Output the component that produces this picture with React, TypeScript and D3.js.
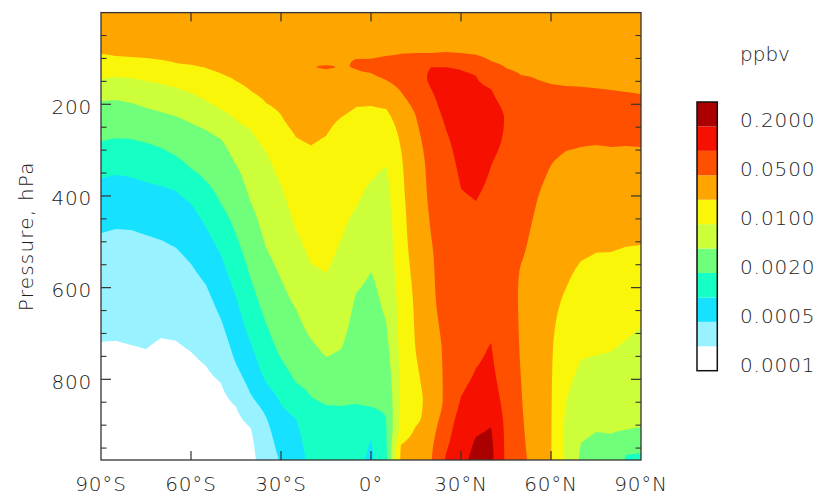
import React from "react";
import * as d3 from "d3";

// Latitude of each profile column (degrees, negative = south)
const latitudes = [
  -90, -85, -80, -75, -70, -65, -60, -55, -50, -45, -40, -35, -30, -25, -20, -15, -10, -5,
  0, 5, 10, 15, 20, 25, 30, 35, 40, 45, 50, 55, 60, 65, 70, 75, 80, 85, 90,
];

// Per-latitude profiles: [pressure hPa, colour-level index].
// Level index k marks the boundary value ppbvLevels[k].
const profiles: [number, number][][] = [
  [[0, 7.4], [90, 7], [145, 6], [193, 5], [280, 4], [361, 3], [481, 2], [718, 1], [976, 0.4]],
  [[0, 7.4], [95, 7], [140, 6], [191, 5], [274, 4], [354, 3], [472, 2], [716, 1], [976, 0.4]],
  [[0, 7.4], [97, 7], [143, 6], [197, 5], [276, 4], [359, 3], [474, 2], [725, 1], [976, 0.4]],
  [[0, 7.4], [99, 7], [149, 6], [208, 5], [284, 4], [370, 3], [485, 2], [734, 1], [976, 0.4]],
  [[0, 7.4], [103, 7], [156, 6], [217, 5], [295, 4], [378, 3], [496, 2], [710, 1], [976, 0.4]],
  [[0, 7.4], [110, 7], [164, 6], [226, 5], [313, 4], [389, 3], [513, 2], [716, 1], [976, 0.4]],
  [[0, 7.45], [114, 7], [175, 6], [241, 5], [340, 4], [417, 3], [548, 2], [740, 1], [976, 0.45]],
  [[0, 7.45], [121, 7], [192, 6], [256, 5], [368, 4], [468, 3], [594, 2], [771, 1], [976, 0.5]],
  [[0, 7.5], [133, 7], [211, 6], [276, 5], [417, 4], [530, 3], [669, 2], [808, 1], [976, 0.55]],
  [[0, 7.5], [149, 7], [234, 6], [332, 5], [484, 4], [620, 3], [766, 2], [860, 1], [976, 0.6]],
  [[0, 7.55], [171, 7], [257, 6], [415, 5], [583, 4], [722, 3], [833, 2], [908, 1], [976, 0.8]],
  [[0, 7.6], [197, 7], [304, 6], [513, 5], [678, 4], [807, 3], [882, 2], [976, 1.4]],
  [[0, 7.6], [223, 7], [376, 6], [581, 5], [755, 4], [855, 3], [976, 2.1]],
  [[0, 7.6], [119, 7.8], [272, 7], [475, 6], [647, 5], [807, 4], [887, 3], [976, 2.6]],
  [[0, 7.6], [119, 7.96], [180, 7.6], [290, 7], [548, 6], [712, 5], [838, 4], [976, 3.2]],
  [[0, 7.6], [110, 7.9], [119, 8.08], [128, 7.9], [269, 7], [568, 6], [752, 5], [856, 4], [976, 3.4]],
  [[0, 7.6], [119, 7.96], [160, 7.8], [229, 7], [496, 6], [734, 5], [858, 4], [976, 3.4]],
  [[0, 7.6], [60, 7.8], [116, 8.03], [135, 7.9], [206, 7], [426, 6], [612, 5], [854, 4], [976, 3.2]],
  [[0, 7.6], [60, 7.8], [101, 8], [116, 8.25], [132, 8], [204, 7], [367, 6], [566, 5], [860, 4], [932, 3], [976, 2.85]],
  [[0, 7.6], [60, 7.8], [95, 8], [120, 8.4], [147, 8], [210, 7], [335, 6], [671, 5], [884, 4], [976, 3.8]],
  [[0, 7.6], [60, 7.85], [90, 8], [130, 8.35], [173, 8], [230, 7.4], [300, 7], [409, 6.8], [518, 6.64], [627, 6.35], [736, 6.26], [845, 6.15], [910, 6.33], [947, 7.05], [976, 7.17]],
  [[0, 7.6], [60, 7.85], [88, 8], [136, 8.6], [228, 8], [300, 7.71], [409, 7.52], [518, 7.38], [627, 7.17], [736, 7.02], [801, 6.83], [852, 6.69], [882, 6.73], [910, 7.11], [947, 7.44], [976, 7.48]],
  [[0, 7.6], [60, 7.85], [88, 8], [119, 9], [143, 9.15], [166, 9], [300, 8.31], [409, 8.15], [485, 8], [518, 7.94], [627, 7.83], [736, 7.63], [845, 7.37], [910, 7.67], [947, 7.86], [976, 7.94]],
  [[0, 7.6], [60, 7.85], [86, 8], [119, 9], [169, 9.35], [256, 9], [300, 8.83], [409, 8.49], [518, 8.4], [627, 8.35], [736, 8.15], [845, 8.18], [910, 8.6], [947, 8.9], [976, 9.08]],
  [[0, 7.6], [60, 7.85], [88, 8], [125, 9], [191, 9.36], [300, 9.22], [383, 9], [518, 8.5], [627, 8.6], [736, 8.52], [838, 9], [910, 9.54], [947, 9.61], [976, 9.73]],
  [[0, 7.55], [92, 8], [138, 9], [300, 9.45], [411, 9], [518, 8.6], [627, 8.8], [736, 8.9], [775, 9], [845, 9.45], [925, 10], [976, 10.3]],
  [[0, 7.5], [106, 8], [167, 9], [250, 9.35], [335, 9], [518, 8.6], [627, 8.85], [720, 9], [845, 9.45], [905, 10], [976, 10.25]],
  [[0, 7.5], [121, 8], [230, 8.95], [409, 8.45], [518, 8.3], [627, 8.4], [736, 8.52], [845, 8.71], [910, 8.81], [976, 8.84]],
  [[0, 7.5], [136, 8], [191, 8.3], [300, 8.4], [409, 8.3], [518, 8.1], [560, 7.97], [627, 7.9], [764, 7.96], [800, 8], [873, 8.07], [976, 8.23]],
  [[0, 7.5], [145, 8], [300, 8.2], [420, 8], [518, 7.77], [627, 7.56], [764, 7.52], [873, 7.55], [976, 7.65]],
  [[0, 7.5], [156, 8], [245, 8.2], [333, 8], [518, 7.38], [627, 7.2], [736, 7.08], [845, 7.05], [976, 7.03]],
  [[0, 7.5], [160, 8], [230, 8.2], [302, 8], [409, 7.5], [518, 7.25], [601, 7], [736, 6.46], [852, 6], [910, 5.82], [976, 5.8]],
  [[0, 7.5], [162, 8], [225, 8.2], [293, 8], [420, 7.5], [542, 7], [650, 6.5], [758, 6], [850, 5.5], [939, 5], [976, 4.85]],
  [[0, 7.5], [165, 8], [225, 8.2], [289, 8], [410, 7.5], [524, 7], [640, 6.5], [747, 6], [830, 5.5], [915, 5], [976, 4.7]],
  [[0, 7.5], [169, 8], [228, 8.2], [293, 8], [410, 7.5], [522, 7], [630, 6.5], [740, 6], [830, 5.5], [919, 5], [976, 4.7]],
  [[0, 7.5], [173, 8], [230, 8.2], [291, 8], [400, 7.5], [511, 7], [610, 6.5], [714, 6], [810, 5.5], [910, 5], [965, 4], [976, 3.9]],
  [[0, 7.5], [178, 8], [235, 8.2], [293, 8], [400, 7.5], [507, 7], [600, 6.5], [686, 6], [800, 5.5], [904, 5], [961, 4], [976, 3.85]],
];

// Contour level boundaries (ppbv) and fill colours between them
const ppbvLevels = [0.0001, 0.0002, 0.0005, 0.001, 0.002, 0.005, 0.01, 0.02, 0.05, 0.1, 0.2, 0.5];
const levelColors = [
  "#ffffff", "#98f2ff", "#16e2ff", "#16ffc4", "#70ff7a", "#ccff3a",
  "#faf60a", "#ffa500", "#ff5000", "#f51000", "#aa0000",
];
const colorbarLabels = ["0.0001", "0.0005", "0.0020", "0.0100", "0.0500", "0.2000"];

const latTicks = [-90, -60, -30, 0, 30, 60, 90];
const latTickLabels = ["90°S", "60°S", "30°S", "0°", "30°N", "60°N", "90°N"];
const pressureTicks = [200, 400, 600, 800];
const pressureMinorTicks = [50, 100, 150, 250, 300, 350, 450, 500, 550, 650, 700, 750, 850, 900, 950];

const FONT = "'DejaVu Sans', Verdana, sans-serif";

// Monotone (Steffen) cubic interpolation of a profile, used to sample it on the fine grid
function monotoneProfile(pr: [number, number][]) {
  const xs = pr.map((d) => d[0]);
  const ys = pr.map((d) => d[1]);
  const n = xs.length;
  const h: number[] = [];
  const s: number[] = [];
  for (let i = 0; i < n - 1; i++) {
    h.push(xs[i + 1] - xs[i]);
    s.push((ys[i + 1] - ys[i]) / (xs[i + 1] - xs[i]));
  }
  const m: number[] = new Array(n).fill(0);
  for (let i = 1; i < n - 1; i++) {
    const s0 = s[i - 1], s1 = s[i];
    const p = (s0 * h[i] + s1 * h[i - 1]) / (h[i - 1] + h[i]);
    m[i] = (Math.sign(s0) + Math.sign(s1)) * Math.min(Math.abs(s0), Math.abs(s1), 0.5 * Math.abs(p)) || 0;
  }
  if (n > 2) {
    m[0] = (3 * s[0] - m[1]) / 2;
    if (Math.sign(m[0]) !== Math.sign(s[0])) m[0] = 0;
    m[n - 1] = (3 * s[n - 2] - m[n - 2]) / 2;
    if (Math.sign(m[n - 1]) !== Math.sign(s[n - 2])) m[n - 1] = 0;
  } else {
    m[0] = s[0];
    m[1] = s[0];
  }
  return (x: number) => {
    if (x <= xs[0]) return ys[0];
    if (x >= xs[n - 1]) return ys[n - 1];
    const i = Math.max(0, d3.bisectRight(xs, x) - 1);
    const hh = h[i];
    const t = (x - xs[i]) / hh;
    const t2 = t * t, t3 = t2 * t;
    return (
      (2 * t3 - 3 * t2 + 1) * ys[i] +
      (t3 - 2 * t2 + t) * hh * m[i] +
      (-2 * t3 + 3 * t2) * ys[i + 1] +
      (t3 - t2) * hh * m[i + 1]
    );
  };
}

export default function App() {
  const W = 820;
  const H = 497;
  const left = 101, right = 641, top = 12.6, bottom = 460;
  const x = d3.scaleLinear().domain([-90, 90]).range([left, right]);
  const y = d3.scaleLinear().domain([0, 976]).range([top, bottom]);

  const pressures = d3.range(0, 977, 4);
  const nx = latitudes.length;
  const ny = pressures.length;
  const colFns = profiles.map(monotoneProfile);
  const values: number[] = new Array(nx * ny);
  for (let j = 0; j < ny; j++) {
    for (let i = 0; i < nx; i++) {
      values[j * nx + i] = colFns[i](pressures[j]);
    }
  }
  const thresholds = d3.range(1, levelColors.length);
  const contours = d3.contours().size([nx, ny]).thresholds(thresholds)(values);

  const gx = d3.scaleLinear().domain(latitudes.map((_, i) => i + 0.5)).range(latitudes).clamp(true);
  const gy = d3.scaleLinear().domain(pressures.map((_, j) => j + 0.5)).range(pressures).clamp(true);
  const path = d3.geoPath(
    d3.geoTransform({
      point: function (px: number, py: number) {
        (this as any).stream.point(x(gx(px)), y(gy(py)));
      },
    })
  );

  // colour bar
  const cbLeft = 697, cbRight = 717.3, cbTop = 102, cbBottom = 370.7;
  const cb = d3.scaleLinear().domain([0, ppbvLevels.length - 1]).range([cbBottom, cbTop]);

  const textColor = "#222";
  const axisColor = "#333";

  return (
    <svg
      width={W}
      height={H}
      style={{ position: "absolute", left: 0, top: 0, background: "#fff" }}
      fontFamily={FONT}
    >
      <defs>
        <clipPath id="plotClip">
          <rect x={left} y={top} width={right - left} height={bottom - top} />
        </clipPath>
      </defs>
      <g clipPath="url(#plotClip)">
        <rect x={left} y={top} width={right - left} height={bottom - top} fill={levelColors[0]} />
        {contours.map((c, k) => (
          <path key={k} d={path(c as any) || ""} fill={levelColors[k + 1]} stroke="none" />
        ))}
      </g>
      {/* frame */}
      <rect x={left} y={top} width={right - left} height={bottom - top} fill="none" stroke={axisColor} strokeWidth={1.3} />
      {/* x ticks */}
      {latTicks.slice(1, -1).map((t) => (
        <g key={"xt" + t}>
          <line x1={x(t)} x2={x(t)} y1={top} y2={top + 9} stroke={axisColor} strokeWidth={1.2} />
          <line x1={x(t)} x2={x(t)} y1={bottom} y2={bottom - 9} stroke={axisColor} strokeWidth={1.2} />
        </g>
      ))}
      {latTicks.map((t, i) => (
        <text key={"xl" + t} x={x(t)} y={491} textAnchor="middle" fontSize={20} fontWeight={200} fill={textColor} letterSpacing={0.8}>
          {latTickLabels[i]}
        </text>
      ))}
      {/* y ticks */}
      {pressureTicks.map((p) => (
        <g key={"yt" + p}>
          <line x1={left} x2={left + 10} y1={y(p)} y2={y(p)} stroke={axisColor} strokeWidth={1.2} />
          <line x1={right} x2={right - 10} y1={y(p)} y2={y(p)} stroke={axisColor} strokeWidth={1.2} />
          <text x={92} y={y(p) + 9.5} textAnchor="end" fontSize={20} fontWeight={200} fill={textColor} letterSpacing={0.8}>
            {p}
          </text>
        </g>
      ))}
      {pressureMinorTicks.map((p) => (
        <g key={"ym" + p}>
          <line x1={left} x2={left + 5.5} y1={y(p)} y2={y(p)} stroke={axisColor} strokeWidth={1.1} />
          <line x1={right} x2={right - 5.5} y1={y(p)} y2={y(p)} stroke={axisColor} strokeWidth={1.1} />
        </g>
      ))}
      <text
        transform={`translate(33, ${(top + bottom) / 2}) rotate(-90)`}
        textAnchor="middle"
        fontSize={20}
        fontWeight={200}
        fill={textColor}
        letterSpacing={1.2}
      >
        Pressure, hPa
      </text>
      {/* colour bar */}
      {levelColors.map((c, k) => (
        <rect key={"cb" + k} x={cbLeft} y={cb(k + 1)} width={cbRight - cbLeft} height={cb(k) - cb(k + 1)} fill={c} />
      ))}
      <rect x={cbLeft} y={cbTop} width={cbRight - cbLeft} height={cbBottom - cbTop} fill="none" stroke="#111" strokeWidth={1.5} />
      {colorbarLabels.map((l, i) => (
        <text key={"cbl" + l} x={740} y={cb(i * 2) + 1} fontSize={20} fontWeight={200} fill={textColor} letterSpacing={0.9}>
          {l}
        </text>
      ))}
      <text x={740} y={61} fontSize={20} fontWeight={200} fill={textColor}>
        ppbv
      </text>
    </svg>
  );
}
